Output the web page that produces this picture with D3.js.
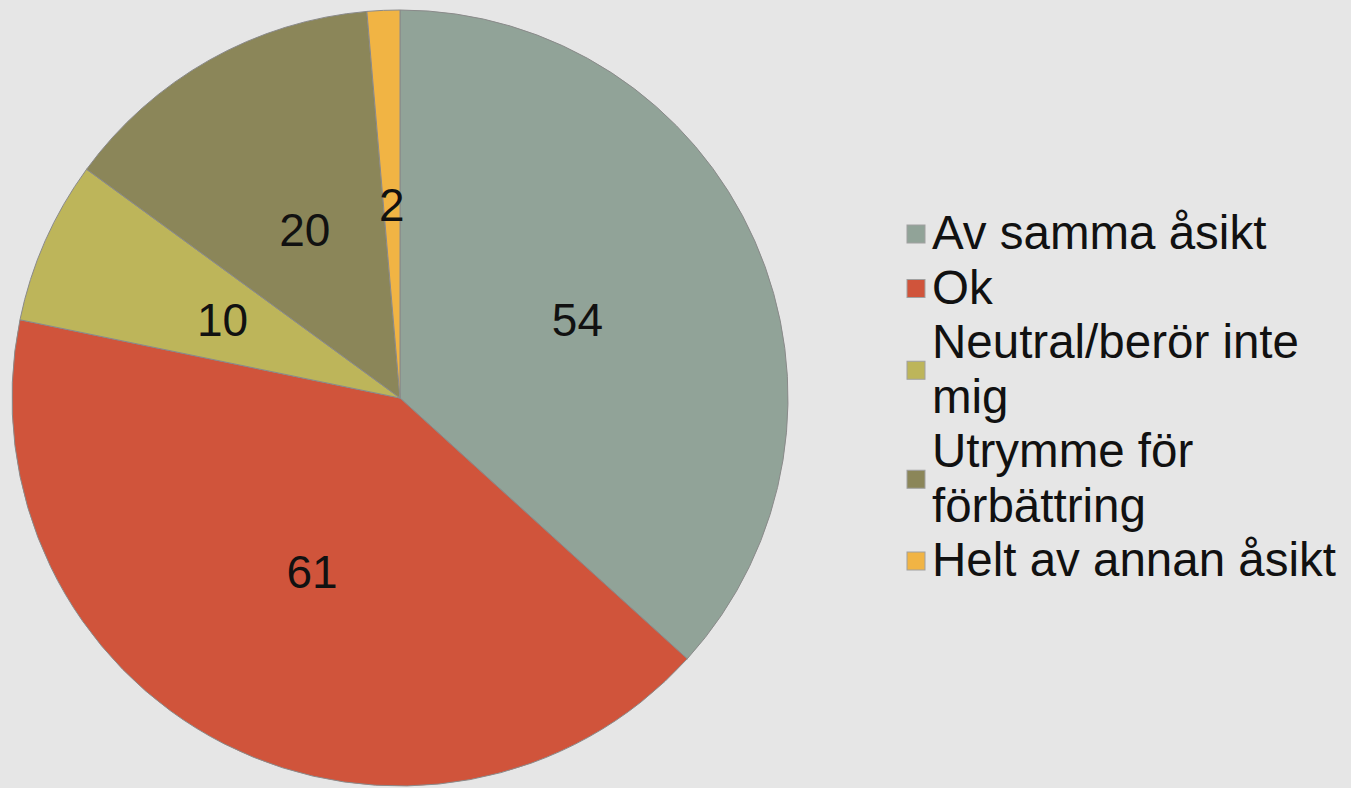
<!DOCTYPE html>
<html>
<head>
<meta charset="utf-8">
<title>Pie</title>
<style>
  body { margin: 0; background: #e6e6e6; }
  svg { display: block; }
  .lbl { font-family: "Liberation Sans", Arial, sans-serif; fill: #111; }
</style>
</head>
<body>
<script src="https://cdn.jsdelivr.net/npm/d3@7"></script>
<script>
// data
var categories = ["Av samma åsikt", "Ok", "Neutral/berör inte mig", "Utrymme för förbättring", "Helt av annan åsikt"];
var values = [54, 61, 10, 20, 2];
var colors = ["#91a398", "#d0543b", "#bdb55a", "#8b8659", "#f1b444"];
// how the legend wraps each label
var legendLines = [["Av samma åsikt"], ["Ok"], ["Neutral/berör inte", "mig"], ["Utrymme för", "förbättring"], ["Helt av annan åsikt"]];

var width = 1351, height = 788;
var cx = 400, cy = 398, r = 388;

var svg = d3.select("body").append("svg")
  .attr("width", width)
  .attr("height", height);

var data = categories.map(function(c, i){ return {name: c, value: values[i], i: i}; });

var pie = d3.pie().sort(null).value(function(d){ return d.value; });
var arc = d3.arc().innerRadius(0).outerRadius(r);
var color = d3.scaleOrdinal().domain(categories).range(colors);

var g = svg.append("g").attr("transform", "translate(" + cx + "," + cy + ")");

var arcs = pie(data);

g.selectAll("path")
  .data(arcs)
  .enter()
  .append("path")
  .attr("d", arc)
  .attr("fill", function(d){ return color(d.data.name); })
  .attr("stroke", "#8a8a8a")
  .attr("stroke-width", 1);

g.selectAll("text")
  .data(arcs)
  .enter()
  .append("text")
  .attr("class", "lbl")
  .attr("transform", function(d){ var c = arc.centroid(d); return "translate(" + c[0] + "," + c[1] + ")"; })
  .attr("text-anchor", "middle")
  .attr("dy", "0.36em")
  .attr("font-size", 46)
  .text(function(d){ return d.data.value; });

// legend
var lineH = 54.5, lx = 907, tx = 932, y0 = 249;
var leg = svg.append("g");
var row = 0;
legendLines.forEach(function(lines, i){
  var firstBase = y0 + row * lineH;
  var n = lines.length;
  var midY = firstBase - 15 + (n - 1) * lineH / 2;
  leg.append("rect")
    .attr("x", lx)
    .attr("y", midY - 9)
    .attr("width", 18)
    .attr("height", 18)
    .attr("fill", color(categories[i]))
    .attr("stroke", "#a0a0a0")
    .attr("stroke-width", 1);
  var t = leg.append("text")
    .attr("class", "lbl")
    .attr("font-size", 47.5)
    .attr("x", tx)
    .attr("y", firstBase);
  t.selectAll("tspan")
    .data(lines)
    .enter()
    .append("tspan")
    .attr("x", tx)
    .attr("y", function(d, k){ return firstBase + k * lineH; })
    .text(function(d){ return d; });
  row += n;
});
</script>
</body>
</html>
